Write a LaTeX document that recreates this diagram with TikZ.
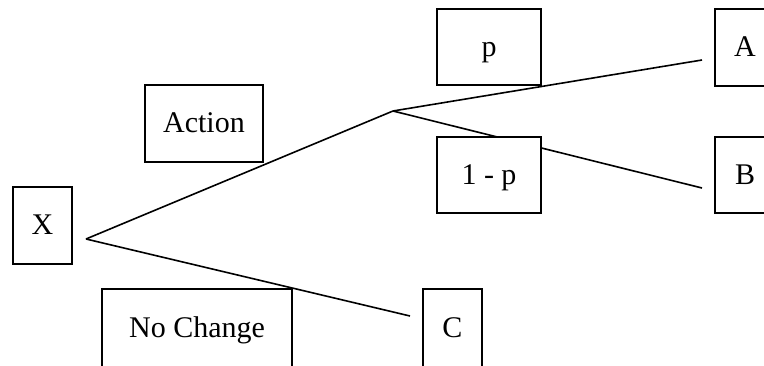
\documentclass[tikz,border=0pt]{standalone}
\usepackage{fontspec}
\setmainfont{Liberation Serif}
\begin{document}
\begin{tikzpicture}[x=1pt,y=-1pt,
  box/.style={draw, fill=white, line width=1.6pt, inner sep=0pt, text height=19pt, text depth=0pt, font=\fontsize{30}{35}\selectfont},
  edge/.style={line width=1.6pt}]
\useasboundingbox (0,0) rectangle (764,366);
\clip (0,0) rectangle (764,366);
\coordinate (x0) at (86,239);
\coordinate (j) at (393,111);
\coordinate (ea) at (702,60);
\coordinate (eb) at (702,188);
\coordinate (ec) at (410,316);
\draw[edge] (x0) -- (j);
\draw[edge] (x0) -- (ec);
\draw[edge] (j) -- (ea);
\draw[edge] (j) -- (eb);
\node[box, minimum width=59pt, minimum height=77pt] (X) at (42.5,225.5) {X};
\node[box, minimum width=118pt, minimum height=77pt] (act) at (204,123.5) {Action};
\node[box, minimum width=190pt, minimum height=78pt] (nc) at (197,328) {No Change};
\node[box, minimum width=104pt, minimum height=76pt] (p) at (489,47) {p};
\node[box, minimum width=104pt, minimum height=76pt] (q) at (489,175) {1 - p};
\node[box, minimum width=60pt, minimum height=77pt] (A) at (745,47.5) {A};
\node[box, minimum width=60pt, minimum height=76pt] (B) at (745,175) {B};
\node[box, minimum width=59pt, minimum height=78pt] (C) at (452.5,328) {C};
\end{tikzpicture}
\end{document}
